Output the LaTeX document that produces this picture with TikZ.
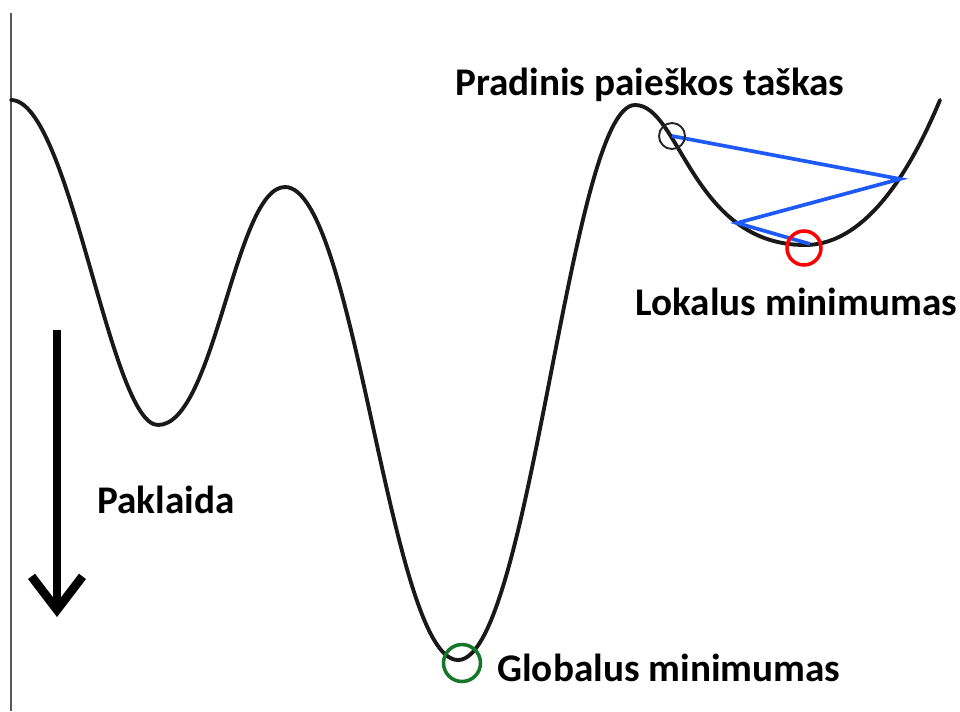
\documentclass[tikz,border=0pt]{standalone}
\usepackage{fontspec}
\setmainfont{Carlito}
\usetikzlibrary{arrows.meta}

\definecolor{descentblue}{RGB}{30,90,250}
\definecolor{globalgreen}{RGB}{20,120,40}

\begin{document}
\begin{tikzpicture}[
  x=0.02cm, y=-0.02cm,
  curve/.style={line width=2.2pt, black!90, line cap=round},
  descent/.style={line width=2.1pt, descentblue},
  ring/.style={circle, draw, inner sep=0pt},
  lbl/.style={anchor=base west, inner sep=0pt, font=\fontsize{22.3}{26}\selectfont\bfseries},
  axis/.style={line width=1.2pt, black!65}
]
\useasboundingbox (0,0) rectangle (960,711);

% vertical axis
\coordinate (axtop) at (11,13);
\coordinate (axbot) at (11,711);
\draw[axis] (axtop) -- (axbot);

% error surface
\draw[curve] (11,100) .. controls (70,100) and (110,425) .. (158,425)
  .. controls (215,425) and (235,187) .. (285,187)
  .. controls (355,187) and (390,660) .. (458,660)
  .. controls (530,660) and (570,105) .. (635,105)
  .. controls (680,105) and (692,245) .. (805,245)
  .. controls (870,245) and (915,160) .. (940,100);

% descent steps
\coordinate (s0) at (672,136);
\coordinate (s1) at (900,179);
\coordinate (s2) at (737,223);
\coordinate (s3) at (810,244);
\draw[descent] (s0) -- (s1) -- (s2) -- (s3);

\node[ring, draw=black!85, line width=1.1pt, minimum size=0.52cm] (start) at (s0) {};
\node[ring, draw=red, line width=2pt, minimum size=0.68cm] (locmin) at (804,248) {};
\node[ring, draw=globalgreen, line width=2pt, minimum size=0.74cm] (globmin) at (462,663) {};

% error arrow
\coordinate (errtop) at (57,330);
\coordinate (errbot) at (57,617);
\draw[line width=5pt, -{Straight Barb[length=19pt, width=29pt]}] (errtop) -- (errbot);

% labels
\node[lbl] (startlbl) at (455,95) {Pradinis paieškos taškas};
\node[lbl] (loclbl) at (635,315) {Lokalus minimumas};
\node[lbl] (globlbl) at (497,681) {Globalus minimumas};
\node[lbl] (errlbl) at (97,513) {Paklaida};
\end{tikzpicture}
\end{document}
